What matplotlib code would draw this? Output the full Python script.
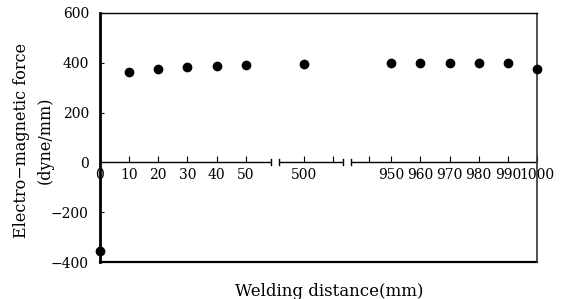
import numpy as np
import matplotlib
matplotlib.use("Agg")
import matplotlib.pyplot as plt

# data
distance = [0, 10, 20, 30, 40, 50, 500, 950, 960, 970, 980, 990, 1000]
force = [-355, 364, 375, 384, 386, 391, 395, 398, 400, 400, 400, 400, 376]
tick_labels = ["0", "10", "20", "30", "40", "50", "500",
               "950", "960", "970", "980", "990", "1000"]
y_ticks = [-400, -200, 0, 200, 400, 600]

# broken x axis: piecewise-linear scale (distance -> drawing position)
KNOTS_D = [0, 50, 450, 500, 600, 900, 950, 1000]
KNOTS_P = [0, 5, 6.5, 7, 8, 9.5, 10, 15]
SEGMENTS = [(0, 282), (354, 668), (724, 1000)]
EXTRA_TICKS = [600, 850]


def fwd(d):
    return np.interp(d, KNOTS_D, KNOTS_P)


def inv(p):
    return np.interp(p, KNOTS_P, KNOTS_D)


plt.rcParams["font.family"] = ["DejaVu Serif"]

fig = plt.figure(figsize=(5.71, 2.99), dpi=100)
ax = fig.add_axes([100 / 571, 1 - 262 / 299, 437 / 571, 249 / 299])
ax.set_xscale("function", functions=(fwd, inv))
ax.set_xlim(0, 1000)
ax.set_ylim(-400, 600)

ax.plot(distance, force, "o", color="black", ms=6, clip_on=False, zorder=5)

# zero line, cut where the axis is broken
for a, b in SEGMENTS:
    ax.plot([a, b], [0, 0], color="black", lw=1.0, solid_capstyle="butt")
    for e in (a, b):
        if 0 < e < 1000:
            ax.plot([e, e], [-12, 12], color="black", lw=1.0)

# x ticks sit on the zero line
ax.spines["bottom"].set_position(("data", 0))
ax.spines["bottom"].set_visible(False)
ax.set_xticks(distance)
ax.set_xticklabels(tick_labels, fontsize=10)
ax.set_xticks(EXTRA_TICKS, minor=True)
ax.tick_params(axis="x", which="both", direction="in", length=4, width=0.8, pad=4)

ax.set_yticks(y_ticks)
ax.set_yticklabels([f"{v}".replace("-", "\u2212") for v in y_ticks], fontsize=10)
ax.tick_params(axis="y", direction="in", length=3, width=0.8, pad=8)

ax.spines["left"].set_linewidth(2.0)
ax.spines["top"].set_linewidth(1.0)
ax.spines["right"].set_linewidth(1.2)
ax.spines["right"].set_linestyle((0, (2, 1)))
ax.spines["right"].set_color("#333333")
ax.axhline(-400, color="black", lw=1.6, clip_on=False)

fig.text(22 / 571, 1 - 140 / 299, "Electro\u2212magnetic force", rotation=90,
         ha="center", va="center", fontsize=11.5)
fig.text(45 / 571, 1 - 140 / 299, "(dyne/mm)", rotation=90,
         ha="center", va="center", fontsize=11.5)
fig.text(329 / 571, 1 - 292 / 299, "Welding distance(mm)", ha="center",
         va="center", fontsize=12)

fig.savefig("out.png", dpi=100)
